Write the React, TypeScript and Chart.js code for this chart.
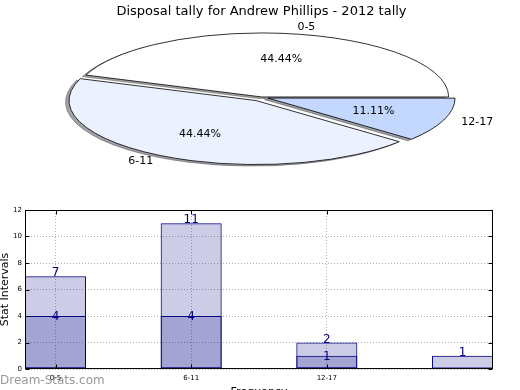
import React, { useEffect, useRef } from 'react';
import { Chart, registerables } from 'chart.js';

Chart.register(...registerables);

// ---------- data ----------
const chartTitle = 'Disposal tally for Andrew Phillips - 2012 tally';
const pieLabels = ['0-5', '6-11', '12-17'];
const pieValues = [4, 4, 1];
const barCategories = ['0-5', '6-11', '12-17', ''];
const darkValues = [4, 4, 1, 0];
const lightValues = [7, 11, 2, 1];
const xTickValues = [0, 1, 2];
const yAxisTitle = 'Stat Intervals';
const xAxisTitle = 'Frequency';
const watermark = 'Dream-Stats.com';

// ---------- style ----------
const FONT = "'DejaVu Sans', 'Liberation Sans', sans-serif";
const PIE_RX = 187;
const PIE_RY = 64;
const pieColors = ['#ffffff', '#ebf1ff', '#c4d7ff'];
const pieOffsets = [1, 11, 7];
const NAVY = '#000080';

function hexToRgb(h: string) {
  const n = parseInt(h.slice(1), 16);
  return [(n >> 16) & 255, (n >> 8) & 255, n & 255];
}

const pieDrawPlugin = {
  id: 'pieDraw',
  beforeDatasetsDraw(chart: any) {
    const ctx = chart.ctx as CanvasRenderingContext2D;
    const meta = chart.getDatasetMeta(0);
    const values = chart.data.datasets[0].data as number[];
    const total = values.reduce((a, b) => a + b, 0);
    const wedges = meta.data.map((el: any, i: number) => {
      const p = el.getProps(['x', 'y', 'startAngle', 'endAngle'], true);
      const off = el.options.offset || 0;
      const mid = (p.startAngle + p.endAngle) / 2;
      return {
        cx: p.x + Math.cos(mid) * off,
        cy: p.y - Math.sin(mid) * off * (PIE_RY / PIE_RX),
        s: p.startAngle,
        e: p.endAngle,
        mid,
        color: el.options.backgroundColor as string,
        i,
        ox: p.x,
      };
    });
    const path = (w: any, dx: number, dy: number) => {
      ctx.beginPath();
      ctx.moveTo(w.cx + dx, w.cy + dy);
      ctx.ellipse(w.cx + dx, w.cy + dy, PIE_RX, PIE_RY, 0, -w.s, -w.e, true);
      ctx.closePath();
    };
    ctx.save();
    // shadows
    wedges.forEach((w: any) => {
      const [r, g, b] = hexToRgb(w.color);
      const c = `rgba(${Math.round(r * 0.3)},${Math.round(g * 0.3)},${Math.round(b * 0.3)},0.5)`;
      path(w, -3.5, 1.5);
      ctx.fillStyle = c;
      ctx.fill();
      ctx.strokeStyle = c;
      ctx.lineWidth = 1;
      ctx.stroke();
    });
    // wedges
    wedges.forEach((w: any) => {
      path(w, 0, 0);
      ctx.fillStyle = w.color;
      ctx.fill();
      ctx.strokeStyle = '#000';
      ctx.lineWidth = 0.8;
      ctx.lineJoin = 'miter';
      ctx.stroke();
    });
    // labels
    ctx.fillStyle = '#000';
    ctx.font = `11px ${FONT}`;
    ctx.textBaseline = 'middle';
    wedges.forEach((w: any) => {
      const px = w.cx + Math.cos(w.mid) * PIE_RX * 0.6;
      const py = w.cy - Math.sin(w.mid) * PIE_RY * 0.6;
      ctx.textAlign = 'center';
      ctx.fillText(((values[w.i] / total) * 100).toFixed(2) + '%', px, py);
      const lx = w.cx + Math.cos(w.mid) * PIE_RX * 1.1;
      const ly = w.cy - Math.sin(w.mid) * PIE_RY * 1.1;
      ctx.textAlign = lx > w.ox ? 'left' : 'right';
      ctx.fillText(chart.data.labels[w.i], lx, ly);
    });
    ctx.restore();
    return false;
  },
};

const barDecorPlugin = {
  id: 'barDecor',
  afterDatasetsDraw(chart: any) {
    const ctx = chart.ctx as CanvasRenderingContext2D;
    const { left, right, top, bottom } = chart.chartArea;
    ctx.save();
    // value labels
    ctx.font = `12px ${FONT}`;
    ctx.fillStyle = NAVY;
    ctx.textAlign = 'center';
    ctx.textBaseline = 'alphabetic';
    chart.data.datasets.forEach((ds: any, di: number) => {
      const meta = chart.getDatasetMeta(di);
      meta.data.forEach((el: any, i: number) => {
        const v = ds.data[i].y;
        if (!v) return;
        ctx.fillText(String(v), el.x, el.y + (ds.labelShift || 0));
      });
    });
    // frame
    ctx.strokeStyle = '#000';
    ctx.lineWidth = 1;
    const L = Math.round(left) + 0.5, R = Math.round(right) - 0.5;
    const T = Math.round(top) + 0.5, B = Math.round(bottom) - 0.5;
    ctx.strokeRect(L, T, R - L, B - T);
    // inward tick marks
    const ys = chart.scales.y;
    const xs = chart.scales.x;
    ctx.beginPath();
    ys.ticks.forEach((t: any) => {
      const y = Math.round(ys.getPixelForValue(t.value)) + 0.5;
      ctx.moveTo(L, y); ctx.lineTo(L + 4, y);
      ctx.moveTo(R, y); ctx.lineTo(R - 4, y);
    });
    xs.ticks.forEach((t: any) => {
      const x = Math.round(xs.getPixelForValue(t.value)) + 0.5;
      ctx.moveTo(x, B); ctx.lineTo(x, B - 4);
      ctx.moveTo(x, T); ctx.lineTo(x, T + 4);
    });
    ctx.stroke();
    ctx.restore();
  },
  afterDraw(chart: any) {
    const ctx = chart.ctx as CanvasRenderingContext2D;
    ctx.save();
    ctx.font = `12px ${FONT}`;
    ctx.fillStyle = 'rgba(110,110,110,0.7)';
    ctx.textAlign = 'left';
    ctx.textBaseline = 'alphabetic';
    ctx.fillText(watermark, 0, 189);
    ctx.restore();
  },
};

export default function App() {
  const pieRef = useRef<HTMLCanvasElement>(null);
  const barRef = useRef<HTMLCanvasElement>(null);

  useEffect(() => {
    const pie = new Chart(pieRef.current!, {
      type: 'pie',
      data: {
        labels: pieLabels,
        datasets: [
          {
            data: pieValues,
            backgroundColor: pieColors,
            offset: pieOffsets,
            borderWidth: 0,
          },
        ],
      },
      options: {
        animation: false,
        responsive: false,
        rotation: 90,
        layout: { padding: { left: 3, bottom: 20 } },
        plugins: {
          legend: { display: false },
          tooltip: { enabled: false },
          title: {
            display: true,
            text: chartTitle,
            color: '#000',
            font: { family: FONT, size: 13, weight: 'normal' },
            padding: { top: 4, bottom: 0 },
          },
        },
      },
      plugins: [pieDrawPlugin],
    } as any);

    const gridCommon = { color: '#b0b0b0', lineWidth: 1, drawTicks: false, offset: false };
    const bar = new Chart(barRef.current!, {
      type: 'bar',
      data: {
        datasets: [
          {
            label: 'dark',
            data: darkValues.map((v, i) => ({ x: i, y: v })),
            backgroundColor: 'rgba(0,0,128,0.2)',
            borderColor: NAVY,
            borderWidth: 1,
            borderSkipped: false,
            categoryPercentage: 1,
            barPercentage: 0.45,
            labelShift: 4,
          },
          {
            label: 'light',
            data: lightValues.map((v, i) => ({ x: i, y: v })),
            backgroundColor: 'rgba(0,0,128,0.2)',
            borderColor: NAVY,
            borderWidth: 1,
            borderSkipped: false,
            categoryPercentage: 1,
            barPercentage: 0.45,
            labelShift: 0,
          },
        ],
      },
      options: {
        animation: false,
        responsive: false,
        layout: { padding: { top: 15, right: 27, left: 0, bottom: 0 } },
        plugins: { legend: { display: false }, tooltip: { enabled: false } },
        scales: {
          x: {
            type: 'linear',
            min: -0.225,
            max: 3.225,
            offset: false,
            stacked: true,
            grid: gridCommon,
            border: { display: false, dash: [1, 2] },
            afterBuildTicks: (s: any) => {
              s.ticks = xTickValues.map((v) => ({ value: v }));
            },
            afterFit: (s: any) => {
              s.height = 41;
            },
            ticks: {
              font: { family: FONT, size: 7 },
              color: '#000',
              padding: 5,
              maxRotation: 0,
              autoSkip: false,
              callback: (v: any) => barCategories[v] ?? '',
            },
            title: {
              display: true,
              text: xAxisTitle,
              color: '#000',
              font: { family: FONT, size: 11 },
              padding: { top: 0, bottom: 11 },
            },
          },
          y: {
            type: 'linear',
            min: 0,
            max: 12,
            stacked: false,
            grid: gridCommon,
            border: { display: false, dash: [1, 2] },
            afterFit: (s: any) => {
              s.width = 25;
            },
            ticks: {
              stepSize: 2,
              font: { family: FONT, size: 7 },
              color: '#000',
              padding: 3,
            },
            title: {
              display: true,
              text: yAxisTitle,
              color: '#000',
              font: { family: FONT, size: 11 },
              padding: { top: -1, bottom: 0 },
            },
          },
        },
      },
      plugins: [barDecorPlugin],
    } as any);

    return () => {
      pie.destroy();
      bar.destroy();
    };
  }, []);

  return (
    <div
      style={{
        position: 'fixed',
        left: 0,
        top: 0,
        width: 520,
        height: 390,
        overflow: 'hidden',
        background: '#fff',
      }}
    >
      <canvas ref={pieRef} width={520} height={195} style={{ position: 'absolute', left: 0, top: 0 }} />
      <canvas ref={barRef} width={520} height={215} style={{ position: 'absolute', left: 0, top: 195 }} />
    </div>
  );
}
